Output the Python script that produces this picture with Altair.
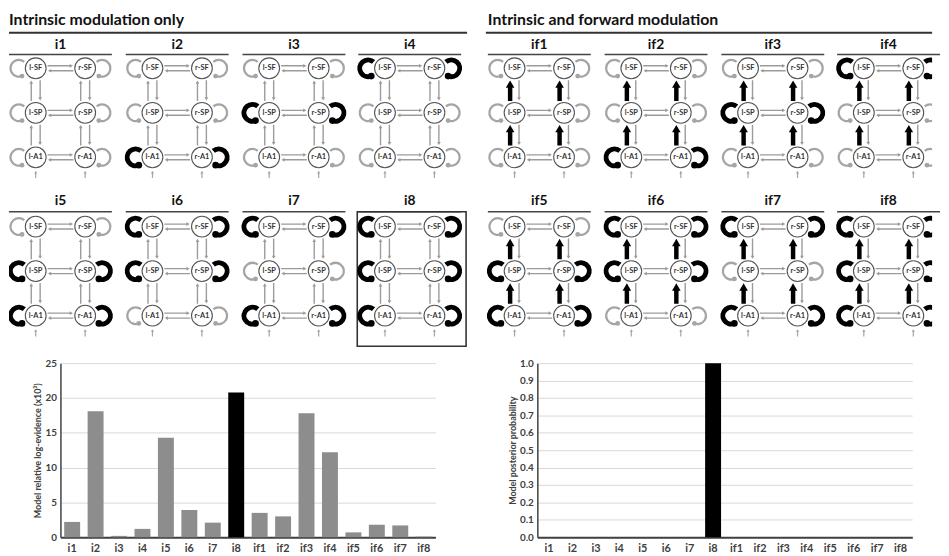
import math
import altair as alt
import pandas as pd

# ---------------- data ----------------
models = ["i1", "i2", "i3", "i4", "i5", "i6", "i7", "i8",
          "if1", "if2", "if3", "if4", "if5", "if6", "if7", "if8"]
log_evidence = [2.2, 18.1, 0.2, 1.2, 14.3, 3.9, 2.1, 20.8,
                3.5, 3.0, 17.8, 12.2, 0.7, 1.8, 1.7, 0.1]
posterior = [0, 0, 0, 0, 0, 0, 0, 1.0, 0, 0, 0, 0, 0, 0, 0, 0]
best_model = "i8"

group_titles = ["Intrinsic modulation only", "Intrinsic and forward modulation"]
regions = ["SF", "SP", "A1"]
# modulated (black) self-connections for the 8 patterns
mod_SF = [0, 0, 0, 1, 0, 1, 1, 1]
mod_SP = [0, 0, 1, 0, 1, 1, 0, 1]
mod_A1 = [0, 1, 0, 0, 1, 0, 1, 1]
forward_mod = [0, 1]          # per group

y_ticks_le = [0, 5, 10, 15, 20, 25]
y_ticks_pp = [0.0, 0.1, 0.2, 0.3, 0.4, 0.5, 0.6, 0.7, 0.8, 0.9, 1.0]

# ---------------- layout (page pixel units) ----------------
W, TOP_Y0, TOP_Y1 = 933, 8, 353
col_x = [60, 178, 296, 413]
group_dx = 484
title_y = [41, 198]
line_y = [50, 209]
node_y0 = [64, 224]
node_dy = 45
node_dx = 25

GRAY = "#9b9b9b"
LGRAY = "#a5a5a5"
BLACK = "#000000"
FONT = "Lato"

rules, heads, nodes, loops, dots, ptitles, plines, boxes = [], [], [], [], [], [], [], []

LOOP_R = 8.5
LOOP_OFF = 17
A_L = 158.0   # degrees, left loop end (bottom)
for k, m in enumerate(models):
    g, j = divmod(k, 8)
    pr, c = divmod(j, 4)
    cx = col_x[c] + g * group_dx
    lx, rx = cx - node_dx, cx + node_dx
    ys = [node_y0[pr] + i * node_dy for i in range(3)]
    mods = [mod_SF[j], mod_SP[j], mod_A1[j]]
    ptitles.append(dict(x=cx, y=title_y[pr], t=m))
    plines.append(dict(x=cx - 52, x2=cx + 52, y=line_y[pr]))
    if m == best_model:
        boxes.append(dict(x=cx - 53, x2=cx + 57, y=line_y[pr], y2=345))
    for i, reg in enumerate(regions):
        y = ys[i]
        nodes.append(dict(x=lx, y=y, t="l-" + reg))
        nodes.append(dict(x=rx, y=y, t="r-" + reg))
        # lateral connections
        rules.append(dict(x=lx + 12, x2=rx - 14, y=y - 2.5, y2=y - 2.5, col=GRAY, sw=1.4))
        heads.append(dict(x=rx - 14, y=y - 2.5, shape="triangle-right", size=14, col=GRAY))
        rules.append(dict(x=lx + 14, x2=rx - 12, y=y + 2.5, y2=y + 2.5, col=GRAY, sw=1.4))
        heads.append(dict(x=lx + 14, y=y + 2.5, shape="triangle-left", size=14, col=GRAY))
        # self connections
        mod = mods[i]
        loops.append(dict(x=lx - LOOP_OFF, y=y, side="l", mod=mod))
        loops.append(dict(x=rx + LOOP_OFF, y=y, side="r", mod=mod))
        ddx = LOOP_R * math.sin(math.radians(A_L))
        ddy = -LOOP_R * math.cos(math.radians(A_L))
        dsz = 45 if mod else 24
        dcol = BLACK if mod else LGRAY
        dots.append(dict(x=lx - LOOP_OFF + ddx, y=y + ddy, col=dcol, size=dsz))
        dots.append(dict(x=rx + LOOP_OFF - ddx, y=y + ddy, col=dcol, size=dsz))
    # vertical connections
    for i in range(2):
        yu, yl = ys[i], ys[i + 1]
        for x0 in (lx, rx):
            if forward_mod[g]:
                rules.append(dict(x=x0 - 4.5, x2=x0 - 4.5, y=yl - 12, y2=yu + 18, col=BLACK, sw=4.5))
                heads.append(dict(x=x0 - 4.5, y=yu + 16, shape="triangle-up", size=75, col=BLACK))
            else:
                rules.append(dict(x=x0 - 4.5, x2=x0 - 4.5, y=yl - 12, y2=yu + 14, col=GRAY, sw=1.4))
                heads.append(dict(x=x0 - 4.5, y=yu + 14, shape="triangle-up", size=14, col=GRAY))
            rules.append(dict(x=x0 + 4.5, x2=x0 + 4.5, y=yu + 12, y2=yl - 14, col=GRAY, sw=1.4))
            heads.append(dict(x=x0 + 4.5, y=yl - 14, shape="triangle-down", size=14, col=GRAY))
    # inputs
    for x0 in (lx, rx):
        rules.append(dict(x=x0, x2=x0, y=ys[2] + 21, y2=ys[2] + 15, col=LGRAY, sw=1.2))
        heads.append(dict(x=x0, y=ys[2] + 15, shape="triangle-up", size=10, col=LGRAY))

headers = [dict(x=8 + g * group_dx, y=15, t=t) for g, t in enumerate(group_titles)]
hlines = [dict(x=8, x2=471, y=28), dict(x=490, x2=941, y=28)]

xs = alt.Scale(domain=[8, 8 + W], nice=False, zero=False)
ysc = alt.Scale(domain=[TOP_Y0, TOP_Y1], nice=False, zero=False, reverse=True)


def X(f="x"):
    return alt.X(f"{f}:Q", scale=xs, axis=None)


def Y(f="y"):
    return alt.Y(f"{f}:Q", scale=ysc, axis=None)


df = pd.DataFrame

hdr = alt.Chart(df(headers)).mark_text(align="left", baseline="middle", font=FONT,
                                       fontSize=16, fontWeight="bold", color="#111").encode(
    x=X(), y=Y(), text="t:N")
hln = alt.Chart(df(hlines)).mark_rule(color="#333", strokeWidth=2).encode(
    x=X(), x2="x2:Q", y=Y())
ptt = alt.Chart(df(ptitles)).mark_text(baseline="middle", font=FONT, fontSize=14,
                                       fontWeight="bold", color="#111").encode(
    x=X(), y=Y(), text="t:N")
pln = alt.Chart(df(plines)).mark_rule(color="#444", strokeWidth=1.6).encode(
    x=X(), x2="x2:Q", y=Y())
box = alt.Chart(df(boxes)).mark_rect(fill=None, stroke="#333", strokeWidth=1.6).encode(
    x=X(), x2="x2:Q", y=Y(), y2="y2:Q")
rl = alt.Chart(df(rules)).mark_rule(clip=True).encode(
    x=X(), x2="x2:Q", y=Y(), y2="y2:Q",
    color=alt.Color("col:N", scale=None), strokeWidth=alt.StrokeWidth("sw:Q", scale=None))
hd = alt.Chart(df(heads)).mark_point(filled=True, opacity=1, clip=True).encode(
    x=X(), y=Y(), shape=alt.Shape("shape:N", scale=None),
    size=alt.Size("size:Q", scale=None), color=alt.Color("col:N", scale=None))

ldf = df(loops)
t_l = (math.radians(A_L), math.radians(400))
t_r = (math.radians(320), math.radians(360 + 360 - A_L))


def loop_layer(side, mod):
    sub = ldf[(ldf.side == side) & (ldf["mod"] == mod)]
    th = t_l if side == "l" else t_r
    if mod:
        ir, orr, col = 6.0, 11.0, BLACK
    else:
        ir, orr, col = 7.3, 9.6, LGRAY
    return alt.Chart(sub).mark_arc(theta=th[0], theta2=th[1], innerRadius=ir,
                                   outerRadius=orr, color=col, clip=True).encode(x=X(), y=Y())


lp = [loop_layer(s, mm) for s in ("l", "r") for mm in (0, 1)]
dt = alt.Chart(df(dots)).mark_circle(opacity=1, clip=True).encode(
    x=X(), y=Y(), color=alt.Color("col:N", scale=None), size=alt.Size("size:Q", scale=None))
nd = alt.Chart(df(nodes)).mark_point(shape="circle", filled=True, fill="white", stroke="#555",
                                     strokeWidth=1.1, size=441, opacity=1, clip=True).encode(
    x=X(), y=Y())
ndt = alt.Chart(df(nodes)).mark_text(baseline="middle", font=FONT, fontSize=7.5,
                                     fontWeight="bold", color="#333", clip=True).encode(
    x=X(), y=Y(), text="t:N")

top = alt.layer(hdr, hln, ptt, pln, box, rl, hd, *lp, dt, nd, ndt).properties(
    width=W, height=TOP_Y1 - TOP_Y0)

# ---------------- bar charts ----------------
bars = df({"model": models, "le": log_evidence, "pp": posterior})
bars["col"] = [BLACK if m == best_model else "#8d8d8d" for m in models]

xband = alt.Scale(paddingInner=0.32, paddingOuter=0.16)
xaxis = alt.Axis(title=None, labelAngle=0, ticks=False, domainColor="#404040", domainWidth=2,
                 labelFontSize=11, labelFontWeight="bold", labelColor="#404040", labelFont=FONT,
                 labelPadding=5)


def yaxis(title, values, fmt, tp):
    return alt.Axis(title=title, values=values, format=fmt, grid=True, gridColor="#d9d9d9",
                    gridWidth=1, ticks=False, domainColor="#404040", domainWidth=1.5,
                    labelFontSize=10, labelFontWeight="bold", labelColor="#404040",
                    labelFont=FONT, labelPadding=4, titleFont=FONT, titleFontSize=9,
                    titleFontWeight="bold", titleColor="#404040", titlePadding=tp)


left = alt.Chart(bars).mark_bar().encode(
    x=alt.X("model:N", sort=models, scale=xband, axis=xaxis),
    y=alt.Y("le:Q", scale=alt.Scale(domain=[0, 25], nice=False),
            axis=yaxis("Model relative log-evidence (x10³)", y_ticks_le, "d", 3)),
    color=alt.Color("col:N", scale=None),
).properties(width=379, height=176)

right = alt.Chart(bars).mark_bar().encode(
    x=alt.X("model:N", sort=models, scale=xband, axis=xaxis),
    y=alt.Y("pp:Q", scale=alt.Scale(domain=[0, 1], nice=False),
            axis=yaxis("Model posterior probability", y_ticks_pp, ".1f", 2)),
    color=alt.Color("col:N", scale=None),
).properties(width=379, height=176)


def spacer(w):
    return alt.Chart(df({"v": [0]})).mark_point(opacity=0).encode(
        x=alt.X("v:Q", axis=None), y=alt.Y("v:Q", axis=None)).properties(width=w, height=5)


bottom = alt.hconcat(spacer(24), left, spacer(74), right, spacing=0)

chart = alt.vconcat(top, bottom, spacing=4).properties(padding=0).configure(
    font=FONT).configure_view(stroke=None)

chart.save("out.html", embed_options={"renderer": "svg", "actions": False})
